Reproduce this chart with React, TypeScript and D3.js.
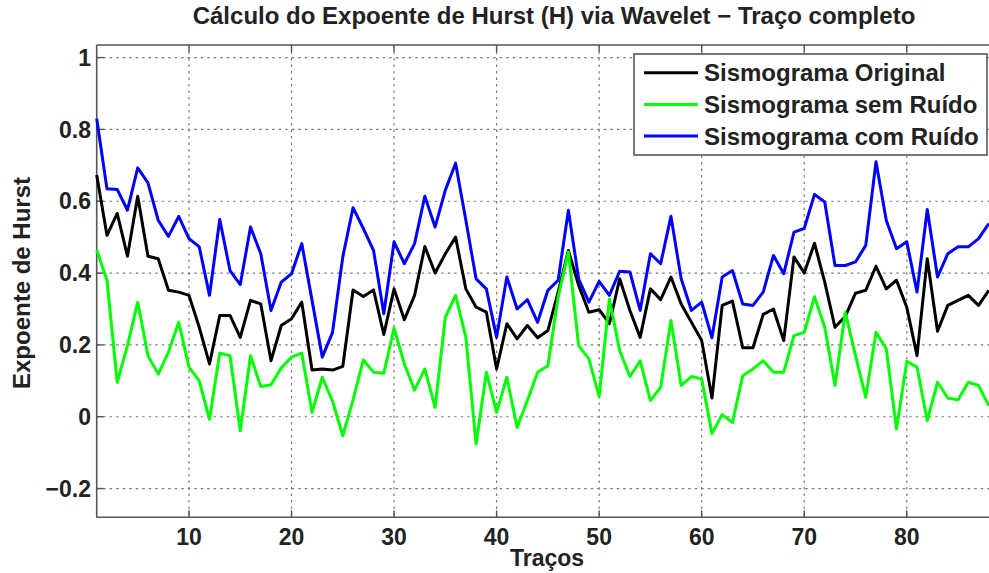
import React from "react";
import * as d3 from "d3";

const traces: number[] = d3.range(1, 89);

const original: number[] = [
  0.673, 0.505, 0.566, 0.447, 0.614, 0.447, 0.44, 0.352, 0.347, 0.338,
  0.249, 0.147, 0.282, 0.282, 0.221, 0.324, 0.314, 0.156, 0.254, 0.273,
  0.319, 0.13, 0.133, 0.13, 0.14, 0.353, 0.335, 0.353, 0.229, 0.356,
  0.27, 0.338, 0.474, 0.4, 0.454, 0.5, 0.356, 0.305, 0.291, 0.133,
  0.259, 0.217, 0.254, 0.22, 0.24, 0.347, 0.463, 0.366, 0.291, 0.298,
  0.259, 0.384, 0.296, 0.221, 0.356, 0.326, 0.389, 0.314, 0.263, 0.212,
  0.052, 0.31, 0.322, 0.192, 0.192, 0.285, 0.3, 0.212, 0.445, 0.4,
  0.483, 0.375, 0.249, 0.279, 0.344, 0.352, 0.419, 0.356, 0.38, 0.305,
  0.17, 0.44, 0.238, 0.31, 0.324, 0.338, 0.31, 0.352,
];

const semRuido: number[] = [
  0.465, 0.38, 0.096, 0.198, 0.319, 0.17, 0.119, 0.18, 0.263, 0.138,
  0.1, -0.007, 0.177, 0.17, -0.039, 0.17, 0.084, 0.089, 0.136, 0.166,
  0.177, 0.012, 0.11, 0.043, -0.053, 0.047, 0.158, 0.124, 0.121, 0.247,
  0.147, 0.074, 0.133, 0.026, 0.277, 0.338, 0.221, -0.076, 0.124, 0.012,
  0.11, -0.03, 0.045, 0.124, 0.142, 0.333, 0.459, 0.198, 0.161, 0.056,
  0.328, 0.184, 0.112, 0.156, 0.045, 0.082, 0.268, 0.087, 0.112, 0.105,
  -0.047, 0.006, -0.016, 0.114, 0.133, 0.156, 0.124, 0.124, 0.226, 0.235,
  0.334, 0.249, 0.087, 0.291, 0.17, 0.054, 0.235, 0.189, -0.034, 0.154,
  0.138, -0.011, 0.096, 0.052, 0.047, 0.096, 0.087, 0.031,
];

const comRuido: number[] = [
  0.83, 0.635, 0.633, 0.575, 0.693, 0.651, 0.547, 0.502, 0.558, 0.496,
  0.473, 0.338, 0.549, 0.407, 0.368, 0.528, 0.454, 0.296, 0.375, 0.398,
  0.482, 0.324, 0.166, 0.235, 0.445, 0.582, 0.524, 0.463, 0.287, 0.487,
  0.426, 0.482, 0.614, 0.528, 0.631, 0.706, 0.547, 0.384, 0.356, 0.221,
  0.389, 0.3, 0.326, 0.263, 0.352, 0.38, 0.575, 0.384, 0.319, 0.377,
  0.338, 0.405, 0.403, 0.296, 0.454, 0.426, 0.558, 0.384, 0.296, 0.319,
  0.22, 0.389, 0.407, 0.314, 0.31, 0.347, 0.449, 0.398, 0.514, 0.524,
  0.619, 0.598, 0.421, 0.421, 0.431, 0.477, 0.71, 0.547, 0.468, 0.487,
  0.347, 0.577, 0.389, 0.454, 0.473, 0.473, 0.496, 0.538,
];

const seriesNames: string[] = [
  "Sismograma Original",
  "Sismograma sem Ruído",
  "Sismograma com Ruído",
];
const seriesColors: string[] = ["#000000", "#00ff00", "#0000ff"];
const seriesValues: number[][] = [original, semRuido, comRuido];

const xTicks: number[] = [10, 20, 30, 40, 50, 60, 70, 80];
const yTicks: number[] = [-0.2, 0, 0.2, 0.4, 0.6, 0.8, 1];
const yTickLabels: string[] = ["\u22120.2", "0", "0.2", "0.4", "0.6", "0.8", "1"];

const title = "Cálculo do Expoente de Hurst (H) via Wavelet \u2212 Traço completo";
const xLabel = "Traços";
const yLabel = "Expoente de Hurst";

const W = 989;
const H = 573;
const left = 96.7;
const right = 988.8;
const top = 45;
const bottom = 517.3;

const FONT = "'Liberation Sans', Arial, Helvetica, sans-serif";
const TEXT = "#222";
const AXIS = "#555";

export default function App() {
  const x = d3.scaleLinear().domain([1, 88]).range([left, right]);
  const y = d3.scaleLinear().domain([-0.28, 1.035]).range([bottom, top]);

  const line = d3
    .line<number>()
    .x((_, i) => x(traces[i]))
    .y((d) => y(d));

  return (
    <svg
      width={W}
      height={H}
      style={{ position: "absolute", left: 0, top: 0, background: "#fff" }}
      fontFamily={FONT}
    >
      <rect x={0} y={0} width={W} height={H} fill="#fff" />
      {/* grid */}
      {yTicks.map((t) => (
        <line
          key={"gy" + t}
          x1={left}
          x2={W}
          y1={y(t)}
          y2={y(t)}
          stroke="#7a7a7a"
          strokeWidth={1.2}
          strokeDasharray="2.5,4"
        />
      ))}
      {xTicks.map((t) => (
        <line
          key={"gx" + t}
          x1={x(t)}
          x2={x(t)}
          y1={top}
          y2={bottom}
          stroke="#7a7a7a"
          strokeWidth={1.2}
          strokeDasharray="2.5,4"
        />
      ))}
      {/* axes frame */}
      <line x1={left} x2={W} y1={top} y2={top} stroke={AXIS} strokeWidth={1.6} />
      <line x1={left} x2={W} y1={bottom} y2={bottom} stroke={AXIS} strokeWidth={1.6} />
      <line x1={left} x2={left} y1={top} y2={bottom} stroke={AXIS} strokeWidth={1.6} />
      {/* ticks */}
      {xTicks.map((t) => (
        <g key={"tx" + t}>
          <line x1={x(t)} x2={x(t)} y1={bottom} y2={bottom - 7} stroke={AXIS} strokeWidth={1.4} />
          <line x1={x(t)} x2={x(t)} y1={top} y2={top + 7} stroke={AXIS} strokeWidth={1.4} />
          <text
            x={x(t)}
            y={545}
            textAnchor="middle"
            fontSize={23}
            fontWeight="bold"
            fill={TEXT}
          >
            {t}
          </text>
        </g>
      ))}
      {yTicks.map((t, i) => (
        <g key={"ty" + t}>
          <line x1={left} x2={left + 7} y1={y(t)} y2={y(t)} stroke={AXIS} strokeWidth={1.4} />
          <text
            x={91}
            y={y(t) + 8.2}
            textAnchor="end"
            fontSize={23}
            fontWeight="bold"
            fill={TEXT}
          >
            {yTickLabels[i]}
          </text>
        </g>
      ))}
      {/* data */}
      <g>
        {seriesValues.map((vals, k) => (
          <path
            key={"s" + k}
            d={line(vals) || ""}
            fill="none"
            stroke={seriesColors[k]}
            strokeWidth={3}
            strokeLinejoin="round"
          />
        ))}
      </g>
      {/* legend */}
      <g>
        <rect x={634} y={54} width={353} height={101} fill="#fff" stroke={AXIS} strokeWidth={1.6} />
        {seriesNames.map((n, k) => {
          const cy = 72.7 + k * 31.7;
          return (
            <g key={"lg" + k}>
              <line x1={644} x2={698} y1={cy} y2={cy} stroke={seriesColors[k]} strokeWidth={3} />
              <text x={704} y={cy + 8.5} fontSize={24} fontWeight="bold" fill={TEXT}>
                {n}
              </text>
            </g>
          );
        })}
      </g>
      {/* labels */}
      <text x={554} y={24} textAnchor="middle" fontSize={24} fontWeight="bold" fill={TEXT}>
        {title}
      </text>
      <text x={547} y={566} textAnchor="middle" fontSize={23} fontWeight="bold" fill={TEXT}>
        {xLabel}
      </text>
      <text
        transform={`translate(30, 283) rotate(-90)`}
        textAnchor="middle"
        fontSize={24}
        fontWeight="bold"
        fill={TEXT}
      >
        {yLabel}
      </text>
    </svg>
  );
}
